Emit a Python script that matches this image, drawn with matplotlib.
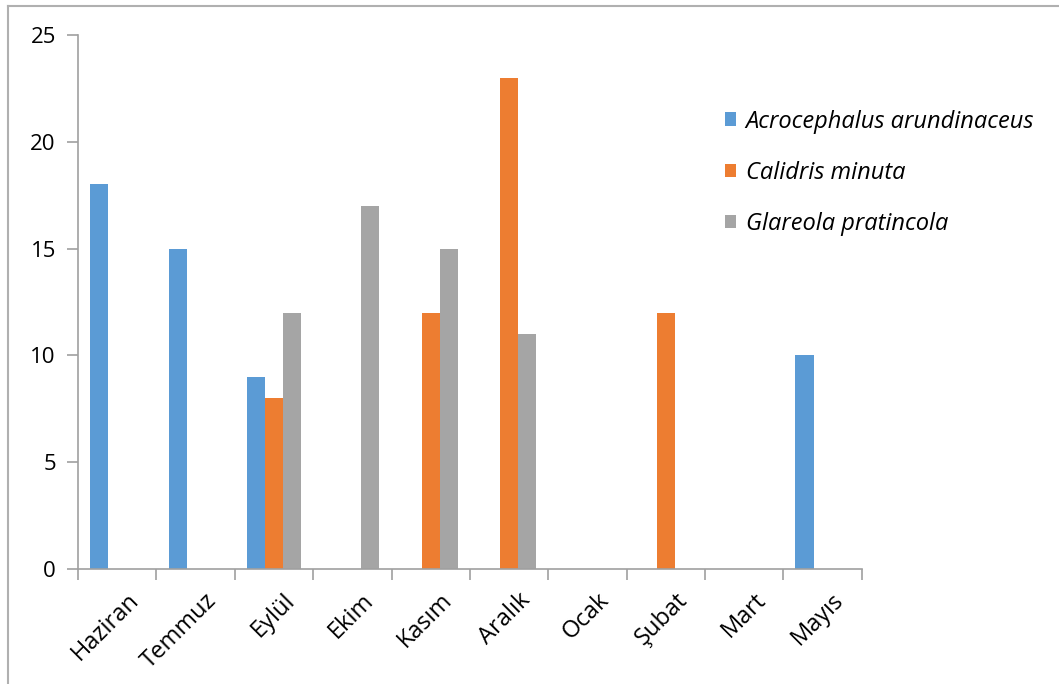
import numpy as np
import matplotlib
matplotlib.use("Agg")
from matplotlib import pyplot as plt
from matplotlib.lines import Line2D

aylar = ["Haziran", "Temmuz", "Eylül", "Ekim", "Kasım", "Aralık", "Ocak", "Şubat", "Mart", "Mayıs"]
turler = ["Acrocephalus arundinaceus", "Calidris minuta", "Glareola pratincola"]
acrocephalus = [18, 15, 9, 0, 0, 0, 0, 0, 0, 10]
calidris = [0, 0, 8, 0, 12, 23, 0, 12, 0, 0]
glareola = [0, 0, 12, 17, 15, 11, 0, 0, 0, 0]
renkler = ["#5B9BD5", "#ED7D31", "#A5A5A5"]

plt.rcParams['font.family'] = ['Open Sans', 'DejaVu Sans']

fig = plt.figure(figsize=(10.59, 6.84), dpi=100)
ax = fig.add_axes([0.0737, 0.168, 0.740, 0.781])

# cerceve: ust ve sol kenar
ust = 1 - 6 / 684
sol = 7.5 / 1059
fig.lines.append(Line2D([sol, 1], [ust, ust], transform=fig.transFigure,
                        color="#B0B0B0", linewidth=1.5))
fig.lines.append(Line2D([sol, sol], [0, ust], transform=fig.transFigure,
                        color="#B0B0B0", linewidth=1.5))

x = np.arange(len(aylar))
w = 0.23
for i, seri in enumerate([acrocephalus, calidris, glareola]):
    ax.bar(x + (i - 1) * w, seri, width=w, color=renkler[i], label=turler[i])

ax.set_xlim(-0.5, len(aylar) - 0.5)
ax.set_ylim(0, 25)
ax.set_yticks([0, 5, 10, 15, 20, 25])

eksen = "#A0A0A0"
for s in ["top", "right"]:
    ax.spines[s].set_visible(False)
for s in ["left", "bottom"]:
    ax.spines[s].set_color(eksen)
    ax.spines[s].set_linewidth(1.2)

# ay sinirlarinda gorunen tikler, etiketler biraz saga kaymis gorunmez tiklerde
ax.set_xticks(np.arange(-0.5, len(aylar)), minor=False)
ax.set_xticklabels([])
ax.set_xticks(x + 0.12, minor=True)
ax.set_xticklabels(aylar, minor=True, rotation=45, ha="right", va="top",
                   rotation_mode="anchor", fontsize=17)
ax.tick_params(axis="x", which="major", length=8, color=eksen, width=1.2)
ax.tick_params(axis="x", which="minor", length=0, pad=14)
ax.tick_params(axis="y", length=8, color=eksen, width=1.2, labelsize=16, pad=8)

leg = ax.legend(loc="center left", bbox_to_anchor=(0.825, 0.742), frameon=False,
                prop={"style": "italic", "size": 17}, handlelength=0.5,
                handleheight=0.5, handletextpad=0.4, labelspacing=1.15,
                borderpad=0, borderaxespad=0)

fig.savefig("out.png", dpi=100)
